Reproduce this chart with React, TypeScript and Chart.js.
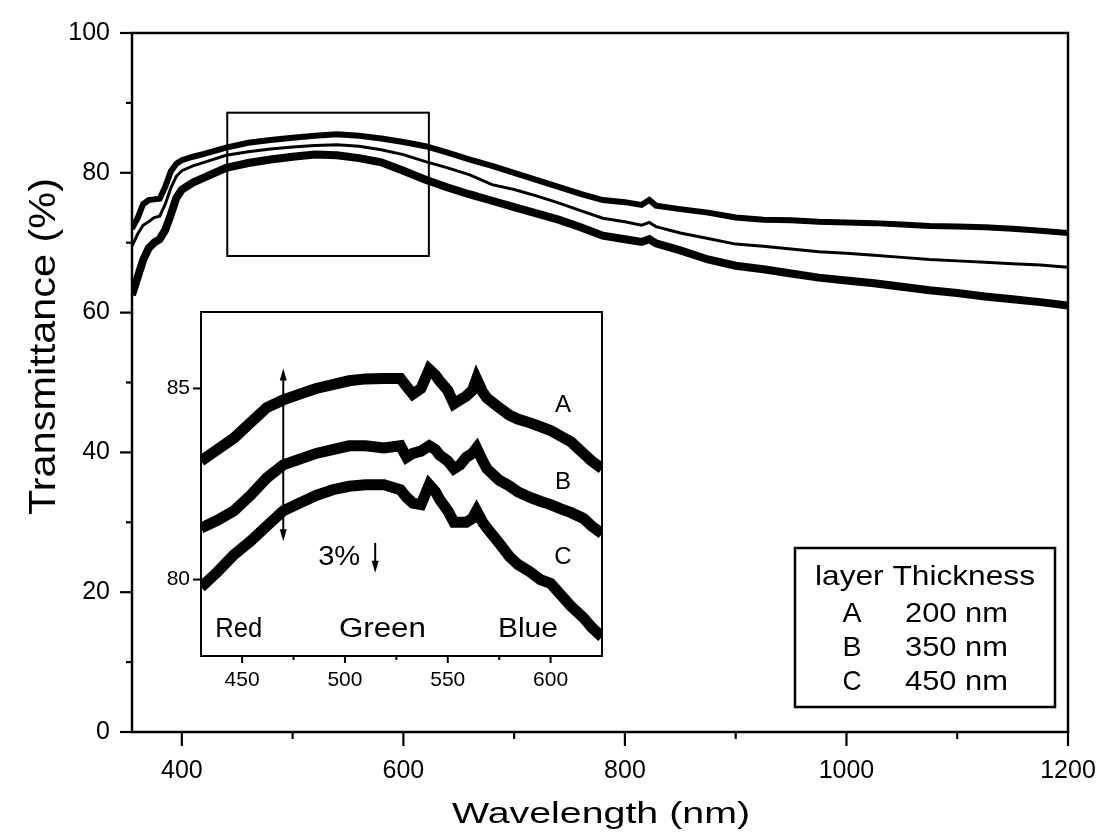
import React, { useEffect, useRef } from 'react';
import { Chart, registerables } from 'chart.js';

Chart.register(...registerables);

const FONT = "'Liberation Sans', Arial, Helvetica, sans-serif";

// ---------- main chart data ----------
const mainWavelengths = [
  355, 360, 365, 370, 375, 380, 385, 390, 395, 400,
  410, 420, 440, 460, 480, 500, 520, 540, 560, 580,
  600, 620, 640, 660, 680, 700, 720, 740, 760, 780,
  800, 815, 822, 828, 850, 875, 900, 925, 950, 975,
  1000, 1025, 1050, 1075, 1100, 1125, 1150, 1175, 1200,
];
const seriesA = [
  72.0, 73.5, 75.5, 76.1, 76.2, 76.3, 78.0, 80.2, 81.3, 81.8,
  82.3, 82.7, 83.6, 84.3, 84.7, 85.0, 85.3, 85.5, 85.3, 84.9,
  84.4, 83.8, 82.9, 81.9, 81.0, 80.0, 79.0, 78.0, 77.0, 76.1,
  75.8, 75.4, 76.1, 75.3, 74.8, 74.3, 73.6, 73.3, 73.2, 73.0,
  72.9, 72.8, 72.6, 72.4, 72.3, 72.2, 72.0, 71.7, 71.4,
];
const seriesB = [
  69.5, 71.2, 72.5, 73.0, 73.6, 73.8, 75.5, 77.8, 79.5, 80.3,
  81.0, 81.5, 82.5, 83.0, 83.4, 83.7, 83.9, 84.0, 83.8, 83.3,
  82.6, 81.6, 80.7, 79.7, 78.3, 77.6, 76.7, 75.7, 74.6, 73.5,
  73.0, 72.5, 72.9, 72.3, 71.4, 70.6, 69.8, 69.5, 69.1, 68.7,
  68.5, 68.2, 67.9, 67.6, 67.4, 67.2, 67.0, 66.8, 66.5,
];
const seriesC = [
  62.5, 65.0, 67.5, 69.2, 70.0, 70.5, 71.8, 74.0, 76.4, 77.6,
  78.6, 79.3, 80.7, 81.4, 81.9, 82.3, 82.6, 82.5, 82.1, 81.5,
  80.3, 79.0, 77.9, 76.9, 76.0, 75.1, 74.2, 73.3, 72.2, 71.0,
  70.5, 70.1, 70.5, 69.9, 68.9, 67.6, 66.7, 66.2, 65.6, 65.0,
  64.6, 64.2, 63.7, 63.2, 62.8, 62.3, 61.9, 61.5, 61.0,
];
const mainXTicks = [400, 500, 600, 700, 800, 900, 1000, 1100, 1200];
const mainXLabels = [400, 600, 800, 1000, 1200];
const mainYTicks = [0, 10, 20, 30, 40, 50, 60, 70, 80, 90, 100];
const mainYLabels = [0, 20, 40, 60, 80, 100];
const zoomBoxX = [441, 623];
const zoomBoxY = [68.1, 88.6];
const legendTitle = 'layer Thickness';
const legendLayers = ['A', 'B', 'C'];
const legendThickness = ['200 nm', '350 nm', '450 nm'];

// ---------- inset data ----------
const insetWavelengths = [
  430, 438, 446, 454, 462, 470, 478, 486, 494, 502,
  510, 519, 527, 530, 533, 537, 541, 544, 546, 550,
  553, 556, 559, 562, 564, 567, 569, 575, 580, 584,
  590, 595, 600, 605, 610, 616, 620, 625,
];
const insetA = [
  83.1, 83.4, 83.7, 84.1, 84.5, 84.7, 84.85, 85.0, 85.1, 85.2,
  85.25, 85.26, 85.26, 85.05, 84.85, 85.0, 85.5, 85.35, 85.2, 84.95,
  84.6, 84.7, 84.8, 84.95, 85.25, 84.9, 84.75, 84.5, 84.3, 84.2,
  84.1, 84.0, 83.9, 83.75, 83.6, 83.3, 83.1, 82.9,
];
const insetB = [
  81.35, 81.55, 81.8, 82.2, 82.66, 83.0, 83.15, 83.3, 83.4, 83.5,
  83.5, 83.44, 83.5, 83.2, 83.3, 83.36, 83.5, 83.4, 83.26, 83.1,
  82.9, 83.0, 83.2, 83.3, 83.44, 83.1, 82.9, 82.6, 82.45, 82.3,
  82.15, 82.05, 81.96, 81.85, 81.75, 81.6, 81.4, 81.2,
];
const insetC = [
  79.8, 80.2, 80.65, 81.0, 81.4, 81.8, 82.0, 82.2, 82.35, 82.44,
  82.48, 82.48, 82.35, 82.15, 82.0, 81.96, 82.48, 82.3, 82.1, 81.8,
  81.5, 81.5, 81.5, 81.6, 81.8, 81.5, 81.35, 80.95, 80.6, 80.4,
  80.2, 80.0, 79.9, 79.6, 79.3, 79.0, 78.75, 78.5,
];
const insetXTicks = [450, 475, 500, 525, 550, 575, 600];
const insetXLabels = [450, 500, 550, 600];
const insetYTicks = [80, 85];
const insetCurveNames = ['A', 'B', 'C'];
const insetColorBands = ['Red', 'Green', 'Blue'];

type TextOpts = {
  align?: CanvasTextAlign;
  baseline?: CanvasTextBaseline;
  width?: number;
  rotate?: boolean;
};

function drawText(ctx: CanvasRenderingContext2D, text: string, x: number, y: number, size: number, opts: TextOpts = {}) {
  ctx.save();
  ctx.font = `${size}px ${FONT}`;
  ctx.fillStyle = '#000';
  ctx.textAlign = opts.align ?? 'center';
  ctx.textBaseline = opts.baseline ?? 'alphabetic';
  ctx.translate(x, y);
  if (opts.rotate) ctx.rotate(-Math.PI / 2);
  if (opts.width) {
    const w = ctx.measureText(text).width;
    if (w > 0) ctx.scale(opts.width / w, 1);
  }
  ctx.fillText(text, 0, 0);
  ctx.restore();
}

function line(ctx: CanvasRenderingContext2D, x0: number, y0: number, x1: number, y1: number) {
  ctx.beginPath();
  ctx.moveTo(x0, y0);
  ctx.lineTo(x1, y1);
  ctx.stroke();
}

function arrowHead(ctx: CanvasRenderingContext2D, x: number, tipY: number, dir: number, len: number, half: number) {
  ctx.beginPath();
  ctx.moveTo(x, tipY);
  ctx.lineTo(x - half, tipY - dir * len);
  ctx.lineTo(x + half, tipY - dir * len);
  ctx.closePath();
  ctx.fill();
}

const mainDecor = {
  id: 'mainDecor',
  afterDraw(chart: any) {
    const { ctx, chartArea } = chart;
    const { left, right, top, bottom } = chartArea;
    const xs = chart.scales.x;
    const ys = chart.scales.y;
    ctx.save();
    ctx.strokeStyle = '#000';
    ctx.fillStyle = '#000';
    ctx.lineCap = 'butt';
    // frame
    ctx.lineWidth = 2.5;
    ctx.strokeRect(left, top, right - left, bottom - top);
    // ticks
    ctx.lineWidth = 2.2;
    mainXTicks.forEach((v) => {
      const px = xs.getPixelForValue(v);
      const len = mainXLabels.includes(v) ? 14 : 7;
      line(ctx, px, bottom, px, bottom + len);
    });
    mainYTicks.forEach((v) => {
      const py = ys.getPixelForValue(v);
      const len = mainYLabels.includes(v) ? 12 : 6;
      line(ctx, left - len, py, left, py);
    });
    // zoom rectangle
    ctx.lineWidth = 2;
    const zx0 = xs.getPixelForValue(zoomBoxX[0]);
    const zx1 = xs.getPixelForValue(zoomBoxX[1]);
    const zy0 = ys.getPixelForValue(zoomBoxY[1]);
    const zy1 = ys.getPixelForValue(zoomBoxY[0]);
    ctx.strokeRect(zx0, zy0, zx1 - zx0, zy1 - zy0);
    // legend box
    const lx = right - 273;
    const ly = top + 515;
    ctx.fillStyle = '#fff';
    ctx.fillRect(lx, ly, 260, 159);
    ctx.lineWidth = 2.5;
    ctx.strokeRect(lx, ly, 260, 159);
    drawText(ctx, legendTitle, lx + 130, ly + 37, 28, { width: 220 });
    const rowBase = [ly + 73.5, ly + 107.5, ly + 142];
    legendLayers.forEach((name, i) => {
      drawText(ctx, name, lx + 57, rowBase[i], 28, { width: 19 });
      drawText(ctx, legendThickness[i], lx + 110, rowBase[i], 28, { align: 'left', width: 103 });
    });
    // axis titles
    drawText(ctx, 'Wavelength (nm)', 601, 823, 30, { width: 298 });
    drawText(ctx, 'Transmittance (%)', 55, 346.5, 37, { rotate: true, width: 337 });
    ctx.restore();
  },
};

const insetDecor = {
  id: 'insetDecor',
  beforeDraw(chart: any) {
    const { ctx, chartArea } = chart;
    ctx.save();
    ctx.fillStyle = '#fff';
    ctx.fillRect(chartArea.left, chartArea.top, chartArea.right - chartArea.left, chartArea.bottom - chartArea.top);
    ctx.restore();
  },
  afterDraw(chart: any) {
    const { ctx, chartArea } = chart;
    const { left, right, top, bottom } = chartArea;
    const xs = chart.scales.x;
    const ys = chart.scales.y;
    ctx.save();
    ctx.strokeStyle = '#000';
    ctx.fillStyle = '#000';
    ctx.lineWidth = 2;
    ctx.strokeRect(left, top, right - left, bottom - top);
    insetXTicks.forEach((v) => {
      const px = xs.getPixelForValue(v);
      const len = insetXLabels.includes(v) ? 7 : 4;
      line(ctx, px, bottom, px, bottom + len);
    });
    insetYTicks.forEach((v) => {
      const py = ys.getPixelForValue(v);
      line(ctx, left - 8, py, left, py);
    });
    // double-headed arrow (3% span)
    const ax = xs.getPixelForValue(470);
    const aTop = ys.getPixelForValue(85.52);
    const aBot = ys.getPixelForValue(81.0);
    ctx.lineWidth = 2;
    line(ctx, ax, aTop + 8, ax, aBot - 8);
    arrowHead(ctx, ax, aTop, -1, 12, 3.5);
    arrowHead(ctx, ax, aBot, 1, 12, 3.5);
    // "3%" and down arrow
    drawText(ctx, '3%', xs.getPixelForValue(497.2), ys.getPixelForValue(80.57), 28, { baseline: 'middle', width: 42 });
    const dx = xs.getPixelForValue(514.7);
    const dTop = ys.getPixelForValue(80.96);
    const dBot = ys.getPixelForValue(80.18);
    line(ctx, dx, dTop, dx, dBot - 8);
    arrowHead(ctx, dx, dBot, 1, 12, 3.5);
    // curve names
    const nameLevels = [84.57, 82.53, 80.57];
    insetCurveNames.forEach((n, i) => {
      drawText(ctx, n, xs.getPixelForValue(606), ys.getPixelForValue(nameLevels[i]), 24, { baseline: 'middle' });
    });
    // colour band names
    const bandCenters = [448.4, 518.2, 589.0];
    const bandWidths = [47, 87, 60];
    insetColorBands.forEach((n, i) => {
      drawText(ctx, n, xs.getPixelForValue(bandCenters[i]), ys.getPixelForValue(78.7), 27, {
        baseline: 'middle',
        width: bandWidths[i],
      });
    });
    ctx.restore();
  },
};

function points(xs: number[], ys: number[]) {
  return xs.map((x, i) => ({ x, y: ys[i] }));
}

function noScalePadding(s: any) {
  s.paddingLeft = 0;
  s.paddingRight = 0;
  s.paddingTop = 0;
  s.paddingBottom = 0;
}

export default function App() {
  const mainRef = useRef<HTMLCanvasElement | null>(null);
  const insetRef = useRef<HTMLCanvasElement | null>(null);

  useEffect(() => {
    const tickFont = { family: FONT, size: 25 };
    const mainChart = new Chart(mainRef.current as HTMLCanvasElement, {
      type: 'line',
      data: {
        datasets: [
          { label: 'A', data: points(mainWavelengths, seriesA), borderColor: '#000', borderWidth: 6, pointRadius: 0, tension: 0, fill: false },
          { label: 'B', data: points(mainWavelengths, seriesB), borderColor: '#000', borderWidth: 3, pointRadius: 0, tension: 0, fill: false },
          { label: 'C', data: points(mainWavelengths, seriesC), borderColor: '#000', borderWidth: 8, pointRadius: 0, tension: 0, fill: false },
        ],
      },
      options: {
        responsive: false,
        animation: false,
        devicePixelRatio: 1,
        events: [],
        layout: { padding: { top: 33, right: 33, left: 0, bottom: 0 } },
        plugins: { legend: { display: false }, tooltip: { enabled: false } },
        scales: {
          x: {
            type: 'linear',
            min: 355,
            max: 1200,
            grid: { display: false, drawTicks: false },
            border: { display: false },
            afterBuildTicks: (s: any) => {
              s.ticks = mainXTicks.map((v) => ({ value: v }));
            },
            afterFit: (s: any) => {
              s.height = 102;
              noScalePadding(s);
            },
            ticks: {
              callback: (v: any) => (mainXLabels.includes(Number(v)) ? String(v) : ''),
              font: tickFont,
              color: '#000',
              padding: 24,
              maxRotation: 0,
              autoSkip: false,
            },
          },
          y: {
            type: 'linear',
            min: 0,
            max: 100,
            grid: { display: false, drawTicks: false },
            border: { display: false },
            afterBuildTicks: (s: any) => {
              s.ticks = mainYTicks.map((v) => ({ value: v }));
            },
            afterFit: (s: any) => {
              s.width = 132;
              noScalePadding(s);
            },
            ticks: {
              callback: (v: any) => (mainYLabels.includes(Number(v)) ? String(v) : ''),
              font: tickFont,
              color: '#000',
              padding: 22,
              autoSkip: false,
            },
          },
        },
      } as any,
      plugins: [mainDecor],
    });

    const insetFont = { family: FONT, size: 21 };
    const insetChart = new Chart(insetRef.current as HTMLCanvasElement, {
      type: 'line',
      data: {
        datasets: [
          { label: 'A', data: points(insetWavelengths, insetA), borderColor: '#000', borderWidth: 11, pointRadius: 0, tension: 0, fill: false, clip: 0 },
          { label: 'B', data: points(insetWavelengths, insetB), borderColor: '#000', borderWidth: 11, pointRadius: 0, tension: 0, fill: false, clip: 0 },
          { label: 'C', data: points(insetWavelengths, insetC), borderColor: '#000', borderWidth: 11, pointRadius: 0, tension: 0, fill: false, clip: 0 },
        ],
      },
      options: {
        responsive: false,
        animation: false,
        devicePixelRatio: 1,
        events: [],
        layout: { padding: { top: 12, right: 18, left: 0, bottom: 0 } },
        plugins: { legend: { display: false }, tooltip: { enabled: false } },
        scales: {
          x: {
            type: 'linear',
            min: 430,
            max: 625,
            grid: { display: false, drawTicks: false },
            border: { display: false },
            afterBuildTicks: (s: any) => {
              s.ticks = insetXTicks.map((v) => ({ value: v }));
            },
            afterFit: (s: any) => {
              s.height = 44;
              noScalePadding(s);
            },
            ticks: {
              callback: (v: any) => (insetXLabels.includes(Number(v)) ? String(v) : ''),
              font: insetFont,
              color: '#000',
              padding: 12,
              maxRotation: 0,
              autoSkip: false,
            },
          },
          y: {
            type: 'linear',
            min: 78,
            max: 87,
            grid: { display: false, drawTicks: false },
            border: { display: false },
            afterBuildTicks: (s: any) => {
              s.ticks = insetYTicks.map((v) => ({ value: v }));
            },
            afterFit: (s: any) => {
              s.width = 51;
              noScalePadding(s);
            },
            ticks: {
              font: insetFont,
              color: '#000',
              padding: 11,
              autoSkip: false,
            },
          },
        },
      } as any,
      plugins: [insetDecor],
    });

    return () => {
      mainChart.destroy();
      insetChart.destroy();
    };
  }, []);

  return (
    <div style={{ position: 'absolute', left: 0, top: 0, width: 1101, height: 834, background: '#fff' }}>
      <canvas
        ref={mainRef}
        width={1101}
        height={834}
        style={{ position: 'absolute', left: 0, top: 0, width: 1101, height: 834 }}
      />
      <canvas
        ref={insetRef}
        width={470}
        height={400}
        style={{ position: 'absolute', left: 150, top: 300, width: 470, height: 400 }}
      />
    </div>
  );
}
